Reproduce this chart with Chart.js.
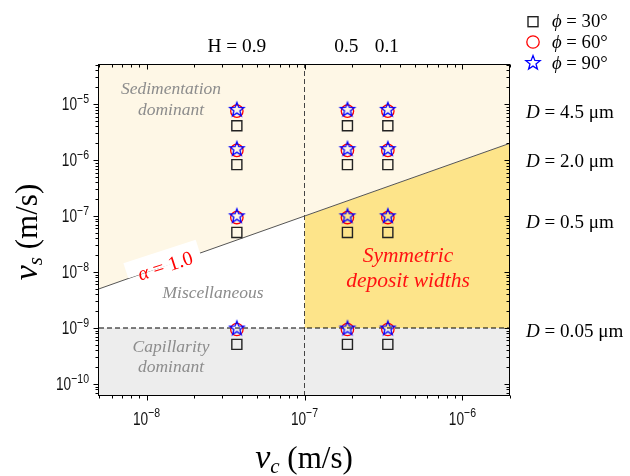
<!DOCTYPE html>
<html><head><meta charset="utf-8">
<script src="https://cdn.jsdelivr.net/npm/chart.js@4.4.0/dist/chart.umd.min.js"></script>
<style>html,body{margin:0;padding:0;background:#fff}canvas{display:block}</style>
</head><body>
<canvas id="c" width="630" height="476" style="width:630px;height:476px"></canvas>
<script>
// ---------- data ----------
const xMin = 5e-9, xMax = 2e-6, yMin = 6.1e-11, yMax = 5e-5;
const vcValues = [3.73e-8, 1.87e-7, 3.37e-7];          // H = 0.9, 0.5, 0.1
const hLabels = ['H = 0.9', '0.5', '0.1'];
const vsPhi30 = [4.1e-6, 8.3e-7, 5.1e-8, 5.1e-10];
const vsPhi60 = [7.5e-6, 1.49e-6, 9.4e-8, 9.4e-10];
const vsPhi90 = [7.9e-6, 1.57e-6, 9.9e-8, 9.8e-10];
const dLabels = ['4.5', '2.0', '0.5', '0.05'];
const phiLabels = ['30°', '60°', '90°'];
const alphaLine = [xMin, xMax];          // v_s = v_c  (alpha = 1.0)
const vcCritical = 1e-7;
const vsCritical = 1e-9;
const yTickExps = [-10, -9, -8, -7, -6, -5];
const xTickExps = [-8, -7, -6];

// ---------- helpers ----------
const SERIF = '"Liberation Serif","DejaVu Serif",serif';
const SANS = '"Liberation Sans",Arial,sans-serif';

function pts(ys) {
  const out = [];
  vcValues.forEach(x => ys.forEach(y => out.push({x, y})));
  return out;
}
function makeStar(R, color, lw) {
  const s = Math.ceil(2 * R + 2 * lw + 2);
  const c = document.createElement('canvas');
  c.width = s; c.height = s;
  const g = c.getContext('2d');
  g.strokeStyle = color; g.lineWidth = lw; g.lineJoin = 'miter';
  g.beginPath();
  for (let i = 0; i < 10; i++) {
    const r = i % 2 ? R * 0.42 : R;
    const a = -Math.PI / 2 + i * Math.PI / 5;
    g.lineTo(s / 2 + r * Math.cos(a), s / 2 + r * Math.sin(a));
  }
  g.closePath(); g.stroke();
  return c;
}
const starImg = makeStar(7.5, '#0000ff', 1.3);

function rich(ctx, parts, x, y, align, sx) {
  sx = sx || 1;
  ctx.save();
  ctx.textBaseline = 'alphabetic'; ctx.textAlign = 'left';
  let w = 0;
  parts.forEach(p => { ctx.font = p.f; p.w = ctx.measureText(p.t).width; w += p.w; });
  ctx.translate(x, y); ctx.scale(sx, 1);
  let cx = align === 'center' ? -w / 2 : align === 'right' ? -w : 0;
  parts.forEach(p => { ctx.font = p.f; ctx.fillStyle = p.c || '#000'; ctx.fillText(p.t, cx, p.dy || 0); cx += p.w; });
  ctx.restore();
}

// ---------- decoration plugin ----------
const deco = {
  id: 'deco',
  afterDatasetsDraw(chart) {
    const ctx = chart.ctx;
    // alpha label with white box
    ctx.save();
    ctx.translate(162, 259); ctx.rotate(-18 * Math.PI / 180);
    ctx.fillStyle = '#ffffff'; ctx.fillRect(-38, -8, 76, 16);
    rich(ctx, [{t: 'α', f: 'italic 20px ' + SERIF, c: '#ff0000'}, {t: ' = 1.0', f: '20px ' + SERIF, c: '#ff0000'}], 1, 14, 'center');
    ctx.restore();
    // region labels
    const g = '#8c8c8c', gi = 'italic 17.5px ' + SERIF;
    rich(ctx, [{t: 'Sedimentation', f: gi, c: g}], 171, 94, 'center');
    rich(ctx, [{t: 'dominant', f: gi, c: g}], 171, 115, 'center');
    rich(ctx, [{t: 'Miscellaneous', f: gi, c: g}], 213, 298, 'center');
    rich(ctx, [{t: 'Capillarity', f: gi, c: g}], 171, 352, 'center');
    rich(ctx, [{t: 'dominant', f: gi, c: g}], 171, 372, 'center');
    const ri = 'italic 21.5px ' + SERIF, rc = '#ff1111';
    rich(ctx, [{t: 'Symmetric', f: ri, c: rc}], 408, 262, 'center');
    rich(ctx, [{t: 'deposit widths', f: ri, c: rc}], 408, 287, 'center');
  },
  afterDraw(chart) {
    const ctx = chart.ctx, a = chart.chartArea, xs = chart.scales.x, ys = chart.scales.y;
    const L = Math.round(a.left) - 0.5, R = Math.round(a.right) - 0.5, T = Math.round(a.top) - 0.5, B = Math.round(a.bottom) - 0.5;
    ctx.save();
    ctx.strokeStyle = '#000'; ctx.lineWidth = 1;
    ctx.strokeRect(L, T, R - L, B - T);
    // ticks
    ctx.beginPath();
    for (let e = -11; e <= -4; e++) {
      for (let m = 1; m <= 9; m++) {
        const v = m * Math.pow(10, e);
        const len = m === 1 ? 5 : 3;
        if (v >= yMin && v <= yMax) {
          const py = Math.round(ys.getPixelForValue(v)) + 0.5;
          ctx.moveTo(L, py); ctx.lineTo(L - len, py);
          ctx.moveTo(R, py); ctx.lineTo(R - len, py);
        }
        if (v >= xMin && v <= xMax) {
          const px = Math.round(xs.getPixelForValue(v)) + 0.5;
          ctx.moveTo(px, B); ctx.lineTo(px, B + len);
          ctx.moveTo(px, T); ctx.lineTo(px, T + len);
        }
      }
    }
    ctx.stroke();
    // tick labels
    const bf = '17.5px ' + SANS, ef = '13.5px ' + SANS;
    yTickExps.forEach(e => {
      const py = ys.getPixelForValue(Math.pow(10, e));
      rich(ctx, [{t: '10', f: bf, c: '#111'}, {t: '−' + Math.abs(e), f: ef, dy: -7.4, c: '#111'}], 89, py + 6, 'right', 0.78);
    });
    xTickExps.forEach(e => {
      const px = xs.getPixelForValue(Math.pow(10, e));
      rich(ctx, [{t: '10', f: bf, c: '#111'}, {t: '−' + Math.abs(e), f: ef, dy: -7.8, c: '#111'}], px, 425, 'center', 0.78);
    });
    // H labels on top
    const hf = '19px ' + SERIF;
    vcValues.forEach((v, i) => {
      const px = xs.getPixelForValue(v);
      let off = i === 0 ? 0 : -1;
      rich(ctx, [{t: hLabels[i], f: hf}], px + off, 51.5, 'center', 1.02);
    });
    // D labels
    const df = '18px ' + SERIF, dfi = 'italic 18px ' + SERIF;
    const dY = [118.3, 166.7, 228.3, 336.7];
    dLabels.forEach((d, i) => {
      rich(ctx, [{t: 'D', f: dfi}, {t: ' = ' + d + ' μm', f: df}], 526, dY[i], 'left', 1.06);
    });
    // legend
    const lY = [21.7, 42, 63];
    ctx.lineWidth = 1.4; ctx.strokeStyle = '#222';
    ctx.strokeRect(528, lY[0] - 5, 10, 10);
    ctx.beginPath(); ctx.strokeStyle = '#ff0000'; ctx.lineWidth = 1.3;
    ctx.arc(533, lY[1], 6.2, 0, Math.PI * 2); ctx.stroke();
    ctx.drawImage(starImg, 533 - starImg.width / 2, lY[2] - starImg.height / 2);
    phiLabels.forEach((p, i) => {
      rich(ctx, [{t: 'ϕ', f: 'italic 18px ' + SERIF}, {t: ' = ' + p, f: '18px ' + SERIF}], 552, lY[i] + 5.5, 'left', 1.04);
    });
    // axis titles
    rich(ctx, [{t: 'v', f: 'italic 34px ' + SERIF}, {t: 'c', f: 'italic 21px ' + SERIF, dy: 5}, {t: ' (m/s)', f: '31px ' + SERIF}], 304, 468, 'center');
    ctx.save();
    ctx.translate(37, 232); ctx.rotate(-Math.PI / 2);
    rich(ctx, [{t: 'v', f: 'italic 34px ' + SERIF}, {t: 's', f: 'italic 21px ' + SERIF, dy: 5}, {t: ' (m/s)', f: '31px ' + SERIF}], 0, 0, 'center');
    ctx.restore();
    ctx.restore();
  }
};

// ---------- chart ----------
new Chart(document.getElementById('c'), {
  type: 'scatter',
  data: {
    datasets: [
      {label: 'phi90', data: pts(vsPhi90), pointStyle: starImg, pointRadius: 7, pointBorderWidth: 0},
      {label: 'phi60', data: pts(vsPhi60), pointStyle: 'circle', pointRadius: 6.2, pointBorderWidth: 1.3, pointBorderColor: '#ff0000', pointBackgroundColor: 'rgba(0,0,0,0)'},
      {label: 'phi30', data: pts(vsPhi30), pointStyle: 'rect', pointRadius: 7.1, pointBorderWidth: 1.4, pointBorderColor: '#222222', pointBackgroundColor: 'rgba(0,0,0,0)'},
      {type: 'line', label: 'alpha', data: alphaLine.map(v => ({x: v, y: v})), borderColor: '#555555', borderWidth: 1, pointRadius: 0, fill: 'end', backgroundColor: '#fef7e6'},
      {type: 'line', label: 'capillary', data: [{x: xMin, y: vsCritical}, {x: xMax, y: vsCritical}], borderWidth: 0, borderColor: 'rgba(0,0,0,0)', pointRadius: 0, fill: 'start', backgroundColor: '#ededed'},
      {type: 'line', label: 'symmetric', data: [{x: vcCritical, y: vcCritical}, {x: xMax, y: xMax}], borderWidth: 0, borderColor: 'rgba(0,0,0,0)', pointRadius: 0, fill: 'start', backgroundColor: '#fde48a'},
      {type: 'line', label: 'vdash', data: [{x: vcCritical, y: yMin}, {x: vcCritical, y: yMax}], borderColor: '#444444', borderWidth: 1, borderDash: [5, 3], pointRadius: 0, fill: false},
      {type: 'line', label: 'hdash', data: [{x: xMin, y: vsCritical}, {x: xMax, y: vsCritical}], borderColor: '#000000', borderWidth: 1.2, borderDash: [5, 3], pointRadius: 0, fill: false}
    ]
  },
  options: {
    responsive: false, animation: false, events: [],
    layout: {padding: {left: 99, right: 120, top: 65, bottom: 80}},
    plugins: {legend: {display: false}, tooltip: {enabled: false}, filler: {drawTime: 'beforeDatasetsDraw', propagate: false}},
    scales: {
      x: {type: 'logarithmic', min: xMin, max: xMax, display: false},
      y: {type: 'logarithmic', min: yMin, max: yMax, display: false}
    }
  },
  plugins: [deco]
});
</script>
</body></html>
